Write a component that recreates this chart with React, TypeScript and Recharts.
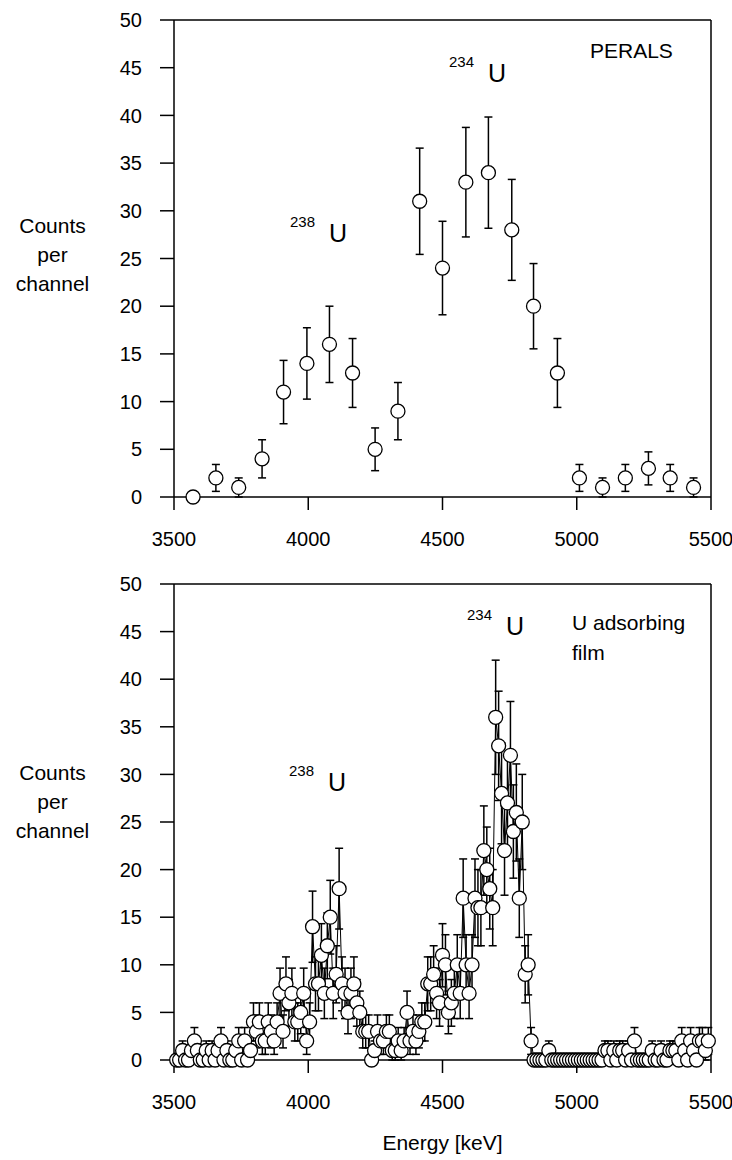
import React from "react";
import {
  ComposedChart,
  Scatter,
  XAxis,
  YAxis,
  ErrorBar,
  ReferenceLine,
  Label,
} from "recharts";

const FONT = '"Liberation Sans", Arial, Helvetica, sans-serif';

const energyTicks = [3500, 4000, 4500, 5000, 5500];
const countTicks = [0, 5, 10, 15, 20, 25, 30, 35, 40, 45, 50];

// PERALS spectrum
const peralsEnergy = [
  3571, 3656, 3741, 3828, 3908, 3995, 4079, 4165, 4249, 4334, 4415, 4500,
  4587, 4671, 4758, 4839, 4928, 5010, 5096, 5181, 5267, 5348, 5435,
];
const peralsCounts = [
  0, 2, 1, 4, 11, 14, 16, 13, 5, 9, 31, 24, 33, 34, 28, 20, 13, 2, 1, 2, 3, 2, 1,
];
const peralsError = [
  0, 1.41, 1, 2, 3.32, 3.74, 4, 3.61, 2.24, 3, 5.57, 4.9, 5.74, 5.83, 5.29,
  4.47, 3.61, 1.41, 1, 1.41, 1.73, 1.41, 1,
];

// U adsorbing film spectrum
const filmEnergy = [
  3510, 3521, 3532, 3543, 3554, 3565, 3576, 3587, 3598, 3609,
  3620, 3631, 3642, 3653, 3664, 3675, 3686, 3697, 3708, 3719,
  3730, 3741, 3752, 3763, 3774, 3785, 3796, 3807, 3818, 3829,
  3840, 3851, 3862, 3873, 3884, 3895, 3906, 3917, 3928, 3939,
  3950, 3961, 3972, 3983, 3994, 4005, 4016, 4027, 4038, 4049,
  4060, 4071, 4082, 4093, 4104, 4115, 4126, 4137, 4148, 4159,
  4170, 4181, 4192, 4203, 4214, 4225, 4236, 4247, 4258, 4269,
  4280, 4291, 4302, 4313, 4324, 4335, 4346, 4357, 4368, 4379,
  4390, 4401, 4412, 4423, 4434, 4445, 4456, 4467, 4478, 4489,
  4500, 4511, 4522, 4533, 4544, 4555, 4566, 4577, 4588, 4599,
  4610, 4621, 4632, 4643, 4654, 4665, 4676, 4687, 4698, 4709,
  4720, 4731, 4742, 4753, 4764, 4775, 4786, 4797, 4808, 4819,
  4830, 4841, 4852, 4863, 4874, 4885, 4896, 4907, 4918, 4929,
  4940, 4951, 4962, 4973, 4984, 4995, 5006, 5017, 5028, 5039,
  5050, 5061, 5072, 5083, 5094, 5105, 5116, 5127, 5138, 5149,
  5160, 5171, 5182, 5193, 5204, 5215, 5226, 5237, 5248, 5259,
  5270, 5281, 5292, 5303, 5314, 5325, 5336, 5347, 5358, 5369,
  5380, 5391, 5402, 5413, 5424, 5435, 5446, 5457, 5468, 5479,
  5490,
];
const filmCounts = [
  0, 0, 1, 0, 0, 1, 2, 1, 0, 0,
  1, 0, 1, 0, 1, 2, 0, 1, 0, 0,
  1, 2, 0, 2, 0, 1, 4, 3, 4, 2,
  2, 4, 3, 2, 4, 7, 3, 8, 6, 7,
  4, 4, 5, 7, 2, 4, 14, 8, 8, 11,
  7, 12, 15, 7, 9, 18, 8, 7, 5, 7,
  8, 6, 5, 3, 3, 3, 0, 1, 3, 2,
  2, 3, 3, 1, 1, 2, 1, 2, 5, 2,
  3, 2, 3, 4, 4, 8, 8, 9, 7, 6,
  11, 10, 5, 6, 7, 10, 7, 17, 10, 7,
  10, 17, 16, 16, 22, 20, 18, 16, 36, 33,
  28, 22, 27, 32, 24, 26, 17, 25, 9, 10,
  2, 0, 0, 0, 0, 0, 1, 0, 0, 0,
  0, 0, 0, 0, 0, 0, 0, 0, 0, 0,
  0, 0, 0, 0, 0, 1, 1, 0, 1, 0,
  1, 1, 0, 1, 0, 2, 0, 0, 0, 0,
  0, 1, 0, 0, 1, 0, 0, 1, 1, 1,
  0, 2, 1, 0, 2, 1, 0, 2, 2, 1,
  2,
];
const filmError = [
  0, 0, 1, 0, 0, 1, 1.41, 1, 0, 0,
  1, 0, 1, 0, 1, 1.41, 0, 1, 0, 0,
  1, 1.41, 0, 1.41, 0, 1, 2, 1.73, 2, 1.41,
  1.41, 2, 1.73, 1.41, 2, 2.65, 1.73, 2.83, 2.45, 2.65,
  2, 2, 2.24, 2.65, 1.41, 2, 3.74, 2.83, 2.83, 3.32,
  2.65, 3.46, 3.87, 2.65, 3, 4.24, 2.83, 2.65, 2.24, 2.65,
  2.83, 2.45, 2.24, 1.73, 1.73, 1.73, 0, 1, 1.73, 1.41,
  1.41, 1.73, 1.73, 1, 1, 1.41, 1, 1.41, 2.24, 1.41,
  1.73, 1.41, 1.73, 2, 2, 2.83, 2.83, 3, 2.65, 2.45,
  3.32, 3.16, 2.24, 2.45, 2.65, 3.16, 2.65, 4.12, 3.16, 2.65,
  3.16, 4.12, 4, 4, 4.69, 4.47, 4.24, 4, 6, 5.74,
  5.29, 4.69, 5.2, 5.66, 4.9, 5.1, 4.12, 5, 3, 3.16,
  1.41, 0, 0, 0, 0, 0, 1, 0, 0, 0,
  0, 0, 0, 0, 0, 0, 0, 0, 0, 0,
  0, 0, 0, 0, 0, 1, 1, 0, 1, 0,
  1, 1, 0, 1, 0, 1.41, 0, 0, 0, 0,
  0, 1, 0, 0, 1, 0, 0, 1, 1, 1,
  0, 1.41, 1, 0, 1.41, 1, 0, 1.41, 1.41, 1,
  1.41,
];

const peralsData = peralsEnergy.map((x, i) => ({
  x,
  y: peralsCounts[i],
  err: peralsError[i],
}));
const filmData = filmEnergy.map((x, i) => ({
  x,
  y: filmCounts[i],
  err: filmError[i],
}));

const tickStyle = { fontSize: 20, fill: "#000", fontFamily: FONT };
const lineStyle = { stroke: "#000", strokeWidth: 1.5 };

const Ring = (props: any) => (
  <circle
    cx={props.cx}
    cy={props.cy}
    r={7}
    fill="#fff"
    stroke="#000"
    strokeWidth={1.3}
  />
);

function Panel({
  data,
  height,
  xAxisHeight,
  joined,
  xLabel,
}: {
  data: { x: number; y: number; err: number }[];
  height: number;
  xAxisHeight: number;
  joined?: boolean;
  xLabel?: string;
}) {
  return (
    <ComposedChart
      width={732}
      height={height}
      margin={{ top: 20, right: 21, bottom: 0, left: 0 }}
    >
      <XAxis
        type="number"
        dataKey="x"
        domain={[3500, 5500]}
        ticks={energyTicks}
        height={xAxisHeight}
        tickSize={13}
        tickMargin={22}
        tick={tickStyle}
        tickLine={lineStyle}
        axisLine={lineStyle}
      >
        {xLabel && (
          <Label
            value={xLabel}
            position="insideBottom"
            offset={10}
            style={{ fontSize: 21, fill: "#000", fontFamily: FONT }}
          />
        )}
      </XAxis>
      <YAxis
        type="number"
        dataKey="y"
        domain={[0, 50]}
        ticks={countTicks}
        width={174}
        tickSize={14}
        tickMargin={18}
        tick={tickStyle}
        tickLine={lineStyle}
        axisLine={lineStyle}
      />
      <ReferenceLine y={50} {...lineStyle} />
      <ReferenceLine x={5500} {...lineStyle} />
      <Scatter
        data={data}
        shape={Ring}
        line={joined ? { stroke: "#000", strokeWidth: 1 } : false}
        lineType="joint"
        isAnimationActive={false}
      >
        <ErrorBar
          dataKey="err"
          direction="y"
          width={4}
          stroke="#000"
          strokeWidth={1.5}
          isAnimationActive={false}
        />
      </Scatter>
    </ComposedChart>
  );
}

function YTitle({ top }: { top: number }) {
  return (
    <text fontSize={21} textAnchor="middle" fill="#000">
      <tspan x={52.5} y={top}>Counts</tspan>
      <tspan x={52.5} y={top + 29}>per</tspan>
      <tspan x={52.5} y={top + 58}>channel</tspan>
    </text>
  );
}

function Isotope({ x, y, mass }: { x: number; y: number; mass: string }) {
  return (
    <g fill="#000">
      <text x={x} y={y} fontSize={15}>{mass}</text>
      <text x={x + 39} y={y + 14.5} fontSize={25}>U</text>
    </g>
  );
}

export default function App() {
  return (
    <div
      style={{
        position: "absolute",
        top: 0,
        left: 0,
        width: 732,
        height: 1160,
        background: "#fff",
        fontFamily: FONT,
      }}
    >
      <div style={{ position: "absolute", top: 0, left: 0 }}>
        <Panel data={peralsData} height={560} xAxisHeight={63} />
      </div>
      <div style={{ position: "absolute", top: 564, left: 0 }}>
        <Panel
          data={filmData}
          height={596}
          xAxisHeight={100}
          joined
          xLabel="Energy [keV]"
        />
      </div>
      <svg
        width={732}
        height={1160}
        style={{ position: "absolute", top: 0, left: 0, pointerEvents: "none" }}
        fontFamily={FONT}
      >
        <YTitle top={233} />
        <Isotope x={290} y={227} mass="238" />
        <Isotope x={449} y={67} mass="234" />
        <text x={590} y={58} fontSize={21} fill="#000">PERALS</text>

        <YTitle top={780} />
        <Isotope x={289} y={776} mass="238" />
        <Isotope x={467} y={620} mass="234" />
        <text fontSize={21} fill="#000">
          <tspan x={572} y={630}>U adsorbing</tspan>
          <tspan x={572} y={660}>film</tspan>
        </text>
      </svg>
    </div>
  );
}
